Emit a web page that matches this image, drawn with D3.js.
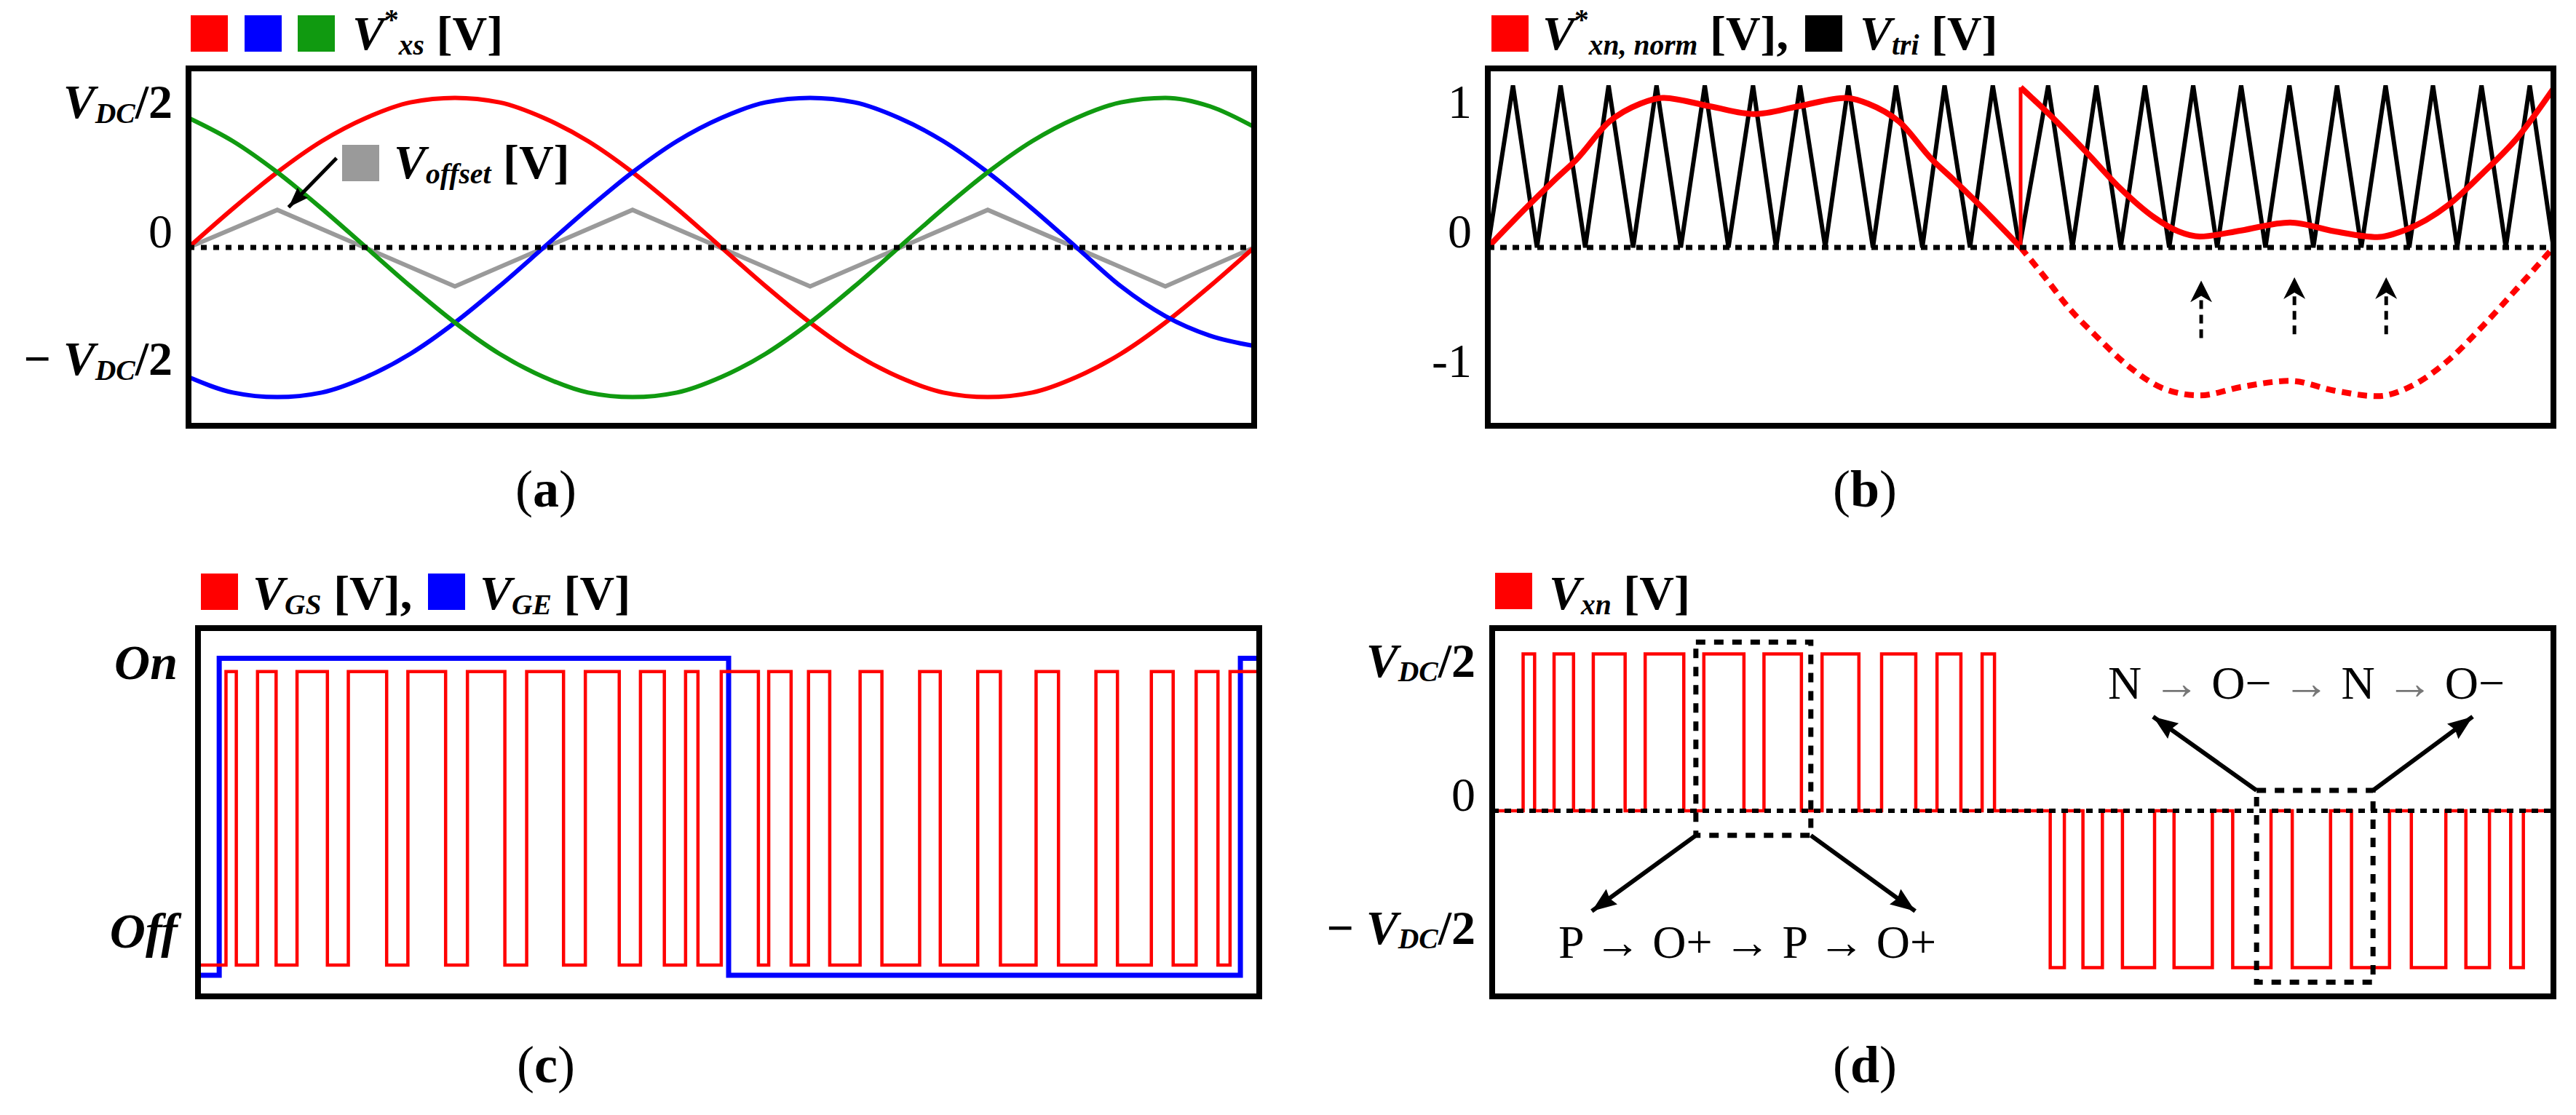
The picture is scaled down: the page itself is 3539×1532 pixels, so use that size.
<!DOCTYPE html>
<html>
<head>
<meta charset="utf-8">
<script src="https://cdn.jsdelivr.net/npm/d3@7"></script>
<style>
  body { margin: 0; background: #fff; }
  svg text { font-family: "Liberation Serif", "DejaVu Serif", serif; }
</style>
</head>
<body>
<svg id="fig" width="3539" height="1532"></svg>
<script>
// ---------- data (angles in degrees, values in per-unit) ----------

// (a) three phase references and offset, in units of VDC/2
const A_ANGLES = [0, 15, 30, 45, 60, 75, 90, 105, 120, 135, 150, 165, 180, 195, 210, 225, 240, 255, 270, 285, 300, 315, 330, 345, 360];
const A_RED   = [0, 0.30, 0.58, 0.82, 1.00, 1.12, 1.155, 1.12, 1.00, 0.82, 0.58, 0.30, 0, -0.30, -0.58, -0.82, -1.00, -1.12, -1.155, -1.12, -1.00, -0.82, -0.58, -0.30, 0];
const A_BLUE  = [-1.00, -1.12, -1.155, -1.12, -1.00, -0.82, -0.58, -0.30, 0, 0.30, 0.58, 0.82, 1.00, 1.12, 1.155, 1.12, 1.00, 0.82, 0.58, 0.30, 0, -0.30, -0.53, -0.68, -0.76];
const A_GREEN = [1.00, 0.82, 0.58, 0.30, 0, -0.30, -0.58, -0.82, -1.00, -1.12, -1.155, -1.12, -1.00, -0.82, -0.58, -0.30, 0, 0.30, 0.58, 0.82, 1.00, 1.12, 1.155, 1.09, 0.93];
const OFFSET_ANGLES = [0, 30, 90, 150, 210, 270, 330, 360];
const OFFSET_VALUES = [0, 0.29, -0.30, 0.29, -0.30, 0.29, -0.30, 0];

// (b) normalized reference and carrier
const NORM_POS_ANGLES = [0, 14, 23, 30, 41, 51.5, 59, 75, 90, 105, 121, 128.5, 139, 150, 157, 166, 180];
const NORM_POS_VALUES = [0, 0.33, 0.53, 0.68, 0.97, 1.11, 1.155, 1.09, 1.03, 1.09, 1.155, 1.11, 0.97, 0.68, 0.53, 0.33, 0];
const NORM_SHIFT_ANGLES = [180, 190, 202, 213.5, 225, 233.5, 240.5, 254.5, 271, 286, 300.5, 309.5, 324.5, 336, 348, 360];
const NORM_SHIFT_VALUES = [1.236, 1.02, 0.74, 0.46, 0.234, 0.122, 0.084, 0.131, 0.193, 0.125, 0.08, 0.131, 0.328, 0.571, 0.852, 1.226];
const NORM_NEG_ANGLES = [180, 189, 196, 205.5, 217, 229, 240.5, 254.5, 271, 286, 300.5, 313, 324.5, 336, 348, 360];
const NORM_NEG_VALUES = [0, -0.253, -0.459, -0.684, -0.927, -1.096, -1.142, -1.077, -1.03, -1.105, -1.148, -1.058, -0.871, -0.609, -0.309, 0];
const TRI_PEAKS = [8.5, 24.6, 40.8, 57.0, 73.3, 89.6, 105.5, 121.8, 137.9, 154.3, 170.6,
                   189.3, 205.6, 222.0, 238.3, 254.5, 270.8, 286.9, 303.3, 319.3, 335.7, 352.0];
const TRI_VALLEYS = [0, 16.6, 32.9, 49.1, 65.2, 81.3, 97.4, 114.0, 130.1, 146.8, 162.9, 179.6,
                     197.5, 213.8, 230.2, 246.4, 262.7, 278.9, 295.1, 311.3, 327.5, 343.9, 360];
const TRI_HIGH = 1.25;
const TRI_LOW = 0;
const LIFT_ARROW_ANGLES = [241, 272.5, 303.5];
const LIFT_ARROW_TIPS = [-0.255, -0.23, -0.23];
const LIFT_ARROW_TAILS = [-0.70, -0.67, -0.67];

// (c) gate signals: switching angles, both start at the low state
const VGS_EDGES = [9.5, 13.0, 20.2, 26.5, 33.6, 43.9, 51.0, 64.0, 71.2, 84.0, 91.4, 104.1, 111.5, 124.0,
                   131.4, 142.9, 150.1, 158.2, 165.4, 169.6, 177.5, 190.1, 193.6, 201.2, 207.1, 214.3,
                   224.6, 232.0, 244.8, 251.8, 264.5, 272.2, 284.3, 291.9, 304.6, 311.9, 323.4, 330.8,
                   338.6, 346.0, 350.1];
const VGS_LEVELS = [0, 1];
const VGE_EDGES = [7.2, 180.0, 353.6];
const VGE_LEVELS = [-0.035, 1.045];

// (d) pole voltage: positive pulses in the first half, negative in the second
const VXN_POS_EDGES = [10.5, 14.4, 21.0, 27.6, 34.3, 45.1, 51.9, 65.0, 71.8, 85.4, 92.2, 104.9,
                       111.9, 124.4, 132.1, 143.7, 150.9, 159.0, 166.2, 170.4];
const VXN_NEG_EDGES = [189.3, 194.1, 200.4, 207.0, 213.8, 224.7, 231.3, 244.3, 251.2, 264.2, 271.4, 284.4,
                       291.5, 304.4, 311.8, 323.5, 330.3, 338.3, 345.5, 349.8];
const STATE_BOXES = [
    {from: 69.1, to: 108.1, top: 1.075, bottom: -0.157},
    {from: 259.3, to: 298.8, top: 0.13, bottom: -1.093}
];
const STATE_ARROWS = [
    {x1: 69.1, y1: -0.157, x2: 33.8, y2: -0.64},
    {x1: 108.1, y1: -0.157, x2: 143.5, y2: -0.64},
    {x1: 259.3, y1: 0.13, x2: 224.2, y2: 0.60},
    {x1: 298.8, y1: 0.13, x2: 332.6, y2: 0.60}
];

// ---------- helpers ----------
const RED = '#ff0000', BLUE = '#0000ff', GREEN = '#109a10', GREY = '#9a9a9a';
const svg = d3.select('#fig');
const defs = svg.append('defs');

function addMarker(id, len, wid, notch) {
    defs.append('marker')
        .attr('id', id)
        .attr('markerUnits', 'userSpaceOnUse')
        .attr('viewBox', `0 0 ${len} ${wid}`)
        .attr('refX', len).attr('refY', wid / 2)
        .attr('markerWidth', len).attr('markerHeight', wid)
        .attr('orient', 'auto')
        .append('path')
        .attr('d', `M0,0 L${len},${wid / 2} L0,${wid} L${notch},${wid / 2} Z`)
        .attr('fill', '#000');
}
addMarker('headA', 28, 20, 3);
addMarker('headB', 30, 30, 9);
addMarker('headD', 34, 26, 4);

// parts: {t, it, sub, sup, b, grey}
function richText(text, parts, size) {
    let shift = 0;
    parts.forEach(p => {
        let small = p.sub || p.sup;
        let target = p.sub ? size * 0.1 : (p.sup ? -size * 0.42 : 0);
        let ts = text.append('tspan')
            .attr('font-size', small ? size * 0.6 : size)
            .attr('dy', target - shift)
            .text(p.t);
        if (p.it) ts.attr('font-style', 'italic');
        if (p.b === false) ts.attr('font-weight', 'normal');
        if (p.grey) ts.attr('fill', '#777');
        shift = target;
    });
}

function label(x, y, parts, size, anchor) {
    let t = svg.append('text')
        .attr('x', x).attr('y', y)
        .attr('font-size', size)
        .attr('font-weight', 'bold')
        .attr('text-anchor', anchor || 'start');
    richText(t, parts, size);
    return t;
}

function makePanel(p) {
    p.x = d3.scaleLinear().domain([0, 360]).range([p.x0, p.x1]);
    p.y = d3.scaleLinear().domain(p.yDomain).range(p.yRange);
    p.g = svg.append('g');
    return p;
}

function toPoints(xs, ys) {
    return xs.map((v, i) => [v, ys[i]]);
}

function stepPoints(edges, levels, start) {
    let state = start;
    let pts = [[0, levels[state]]];
    edges.forEach(e => {
        state = 1 - state;
        pts.push([e, levels[state]]);
    });
    pts.push([360, levels[state]]);
    return pts;
}

function drawLine(panel, pts, color, width, curve, dash) {
    let line = d3.line()
        .x(d => panel.x(d[0]))
        .y(d => panel.y(d[1]))
        .curve(curve || d3.curveLinear);
    let path = panel.g.append('path')
        .attr('d', line(pts))
        .attr('fill', 'none')
        .attr('stroke', color)
        .attr('stroke-width', width)
        .attr('stroke-linejoin', 'miter');
    if (dash) path.attr('stroke-dasharray', dash);
    return path;
}

function addAxis(panel, ticks, labels, shifts, size) {
    let axis = d3.axisLeft(panel.y)
        .tickValues(ticks)
        .tickSize(0)
        .tickPadding(panel.pad)
        .tickFormat(() => '');
    let ag = panel.g.append('g')
        .attr('transform', `translate(${panel.x0},0)`)
        .call(axis);
    ag.select('.domain').remove();
    ag.attr('font-family', null).attr('font-size', null).attr('fill', null);
    ag.selectAll('.tick').each(function (d, i) {
        let tick = d3.select(this);
        tick.attr('transform', `translate(0,${panel.y(d) + shifts[i]})`);
        let t = tick.select('text').attr('fill', '#000').attr('font-weight', 'bold').attr('font-size', size);
        richText(t, labels[i], size);
    });
}

function zeroLine(panel, width, dash) {
    drawLine(panel, [[0, 0], [360, 0]], '#000', width, d3.curveLinear, dash);
}

function frame(panel) {
    panel.g.append('rect')
        .attr('x', panel.x0).attr('y', panel.y0)
        .attr('width', panel.x1 - panel.x0).attr('height', panel.y1 - panel.y0)
        .attr('fill', 'none').attr('stroke', '#000').attr('stroke-width', 8);
}

function swatch(x, y, color) {
    svg.append('rect').attr('x', x).attr('y', y).attr('width', 51).attr('height', 50).attr('fill', color);
}

function caption(x, y, letter) {
    label(x, y, [{t: '(', b: false}, {t: letter}, {t: ')', b: false}], 72, 'middle');
}

const vdc = (sign) => [{t: sign}, {t: 'V', it: true}, {t: 'DC', it: true, sub: true}, {t: '/2'}];

// ---------- panel (a) ----------
let pa = makePanel({x0: 259, x1: 1723, y0: 94, y1: 585, yDomain: [-1, 1], yRange: [518, 162], pad: 22});
drawLine(pa, toPoints(OFFSET_ANGLES, OFFSET_VALUES), GREY, 6);
drawLine(pa, toPoints(A_ANGLES, A_RED), RED, 6, d3.curveMonotoneX);
drawLine(pa, toPoints(A_ANGLES, A_BLUE), BLUE, 6, d3.curveMonotoneX);
drawLine(pa, toPoints(A_ANGLES, A_GREEN), GREEN, 6, d3.curveMonotoneX);
zeroLine(pa, 7, '8 9');
addAxis(pa, [1, 0, -1], [vdc(''), [{t: '0', b: false}], vdc('\u2212 ')], [0, 0, -3], 66);
pa.g.append('line')
    .attr('x1', pa.x(50)).attr('y1', pa.y(0.69))
    .attr('x2', pa.x(33.8)).attr('y2', pa.y(0.31))
    .attr('stroke', '#000').attr('stroke-width', 5)
    .attr('marker-end', 'url(#headA)');
frame(pa);
swatch(262, 21, RED); swatch(336, 21, BLUE); swatch(409, 21, GREEN);
label(484, 68, [{t: 'V', it: true}, {t: '*', sup: true}, {t: 'xs', it: true, sub: true}, {t: ' [V]'}], 66);
swatch(470, 199, GREY);
label(541, 245, [{t: 'V', it: true}, {t: 'offset', it: true, sub: true}, {t: ' [V]'}], 66);
caption(750, 696, 'a');

// ---------- panel (b) ----------
let pb = makePanel({x0: 2044, x1: 3508, y0: 94, y1: 585, yDomain: [-1, 1], yRange: [518, 162], pad: 22});
let triPts = TRI_PEAKS.map(a => [a, TRI_HIGH]).concat(TRI_VALLEYS.map(a => [a, TRI_LOW]))
    .sort((p, q) => p[0] - q[0]);
drawLine(pb, triPts, '#000', 6);
drawLine(pb, toPoints(NORM_POS_ANGLES, NORM_POS_VALUES), RED, 8, d3.curveMonotoneX);
drawLine(pb, [[180, 0], [180, NORM_SHIFT_VALUES[0]]], RED, 5);
drawLine(pb, toPoints(NORM_SHIFT_ANGLES, NORM_SHIFT_VALUES), RED, 8, d3.curveMonotoneX);
drawLine(pb, toPoints(NORM_NEG_ANGLES, NORM_NEG_VALUES), RED, 8, d3.curveMonotoneX, '13 9');
zeroLine(pb, 7, '9 8');
LIFT_ARROW_ANGLES.forEach((a, i) => {
    pb.g.append('line')
        .attr('x1', pb.x(a)).attr('y1', pb.y(LIFT_ARROW_TAILS[i]))
        .attr('x2', pb.x(a)).attr('y2', pb.y(LIFT_ARROW_TIPS[i]))
        .attr('stroke', '#000').attr('stroke-width', 5)
        .attr('stroke-dasharray', '12 8')
        .attr('marker-end', 'url(#headB)');
});
addAxis(pb, [1, 0, -1], [[{t: '1', b: false}], [{t: '0', b: false}], [{t: '-1', b: false}]], [0, 0, 0], 66);
frame(pb);
swatch(2049, 21, RED);
label(2119, 68, [{t: 'V', it: true}, {t: '*', sup: true}, {t: 'xn, norm', it: true, sub: true}, {t: ' [V],'}], 66);
swatch(2480, 21, '#000');
label(2555, 68, [{t: 'V', it: true}, {t: 'tri', it: true, sub: true}, {t: ' [V]'}], 66);
caption(2562, 696, 'b');

// ---------- panel (c) ----------
let pc = makePanel({x0: 272, x1: 1730, y0: 863, y1: 1369, yDomain: [0, 1], yRange: [1326, 922.7], pad: 28});
drawLine(pc, stepPoints(VGE_EDGES, VGE_LEVELS, 0), BLUE, 7, d3.curveStepAfter);
drawLine(pc, stepPoints(VGS_EDGES, VGS_LEVELS, 0), RED, 4.5, d3.curveStepAfter);
addAxis(pc, [1, 0], [[{t: 'On', it: true}], [{t: 'Off', it: true}]], [10, -24], 68);
frame(pc);
swatch(276, 788, RED);
label(347, 837, [{t: 'V', it: true}, {t: 'GS', it: true, sub: true}, {t: ' [V],'}], 66);
swatch(588, 788, BLUE);
label(659, 837, [{t: 'V', it: true}, {t: 'GE', it: true, sub: true}, {t: ' [V]'}], 66);
caption(750, 1487, 'c');

// ---------- panel (d) ----------
let pd = makePanel({x0: 2050, x1: 3508, y0: 863, y1: 1369, yDomain: [-1, 1], yRange: [1329.5, 898.5], pad: 23});
let posPts = stepPoints(VXN_POS_EDGES, [0, 1], 0).filter(p => p[0] < 360);
let negPts = stepPoints(VXN_NEG_EDGES, [0, -1], 0).filter(p => p[0] > 0);
drawLine(pd, posPts.concat([[180, 0]], negPts), RED, 4.5, d3.curveStepAfter);
zeroLine(pd, 6, '9 8');
STATE_BOXES.forEach(b => {
    pd.g.append('rect')
        .attr('x', pd.x(b.from)).attr('y', pd.y(b.top))
        .attr('width', pd.x(b.to) - pd.x(b.from)).attr('height', pd.y(b.bottom) - pd.y(b.top))
        .attr('fill', 'none').attr('stroke', '#000').attr('stroke-width', 7)
        .attr('stroke-dasharray', '13 12');
});
STATE_ARROWS.forEach(a => {
    pd.g.append('line')
        .attr('x1', pd.x(a.x1)).attr('y1', pd.y(a.y1))
        .attr('x2', pd.x(a.x2)).attr('y2', pd.y(a.y2))
        .attr('stroke', '#000').attr('stroke-width', 6)
        .attr('marker-end', 'url(#headD)');
});
addAxis(pd, [1, 0, -1], [vdc(''), [{t: '0', b: false}], vdc('\u2212 ')], [31, 0, -33], 66);
frame(pd);
swatch(2054, 787, RED);
label(2128, 837, [{t: 'V', it: true}, {t: 'xn', it: true, sub: true}, {t: ' [V]'}], 66);
label(2141, 1316, [{t: 'P \u2192 O+ \u2192 P \u2192 O+', b: false}], 64);
label(2896, 960, [
    {t: 'N ', b: false}, {t: '\u2192', b: false, grey: true},
    {t: ' O\u2212 ', b: false}, {t: '\u2192', b: false, grey: true},
    {t: ' N ', b: false}, {t: '\u2192', b: false, grey: true},
    {t: ' O\u2212', b: false}
], 64);
caption(2562, 1487, 'd');
</script>
</body>
</html>
